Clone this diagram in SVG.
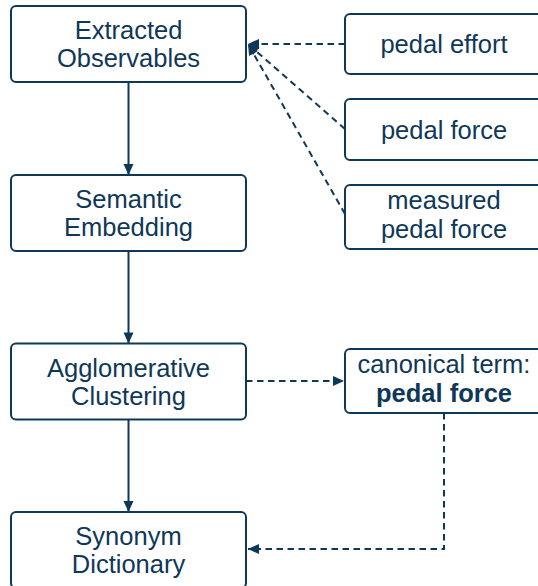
<svg xmlns="http://www.w3.org/2000/svg" width="538" height="586" viewBox="0 0 538 586">
  <defs>
    <marker id="arrow" markerUnits="userSpaceOnUse" markerWidth="12" markerHeight="12" viewBox="-12 -6 12 12" refX="0" refY="0" orient="auto">
      <path d="M0,0 L-11,-5 L-11,5 Z" fill="#0f3858"/>
    </marker>
    <style>
      .box { fill: #ffffff; stroke: #0f3858; stroke-width: 2; }
      .lbl { font-family: "Liberation Sans", Arial, Helvetica, sans-serif; font-size: 25.5px; fill: #0f3858; text-anchor: middle; }
      .bold { font-weight: bold; }
      .edge { fill: none; stroke: #0f3858; stroke-width: 2; marker-end: url(#arrow); }
      .dash { stroke-dasharray: 6.5 4.5; }
    </style>
  </defs>

  <!-- connectors -->
  <g id="connectors">
    <line class="edge" x1="128.5" y1="82" x2="128.5" y2="175"/>
    <line class="edge" x1="128.5" y1="251" x2="128.5" y2="343.5"/>
    <line class="edge" x1="128.5" y1="419.5" x2="128.5" y2="512"/>
    <line class="edge dash" x1="345" y1="44" x2="248" y2="44"/>
    <line class="edge dash" x1="345" y1="129" x2="248" y2="44"/>
    <line class="edge dash" x1="345" y1="214" x2="248" y2="44"/>
    <line class="edge dash" x1="246" y1="381" x2="344" y2="381"/>
    <polyline class="edge dash" points="444,413 444,549 248,549"/>
  </g>

  <!-- pipeline nodes -->
  <g id="extracted-observables">
    <rect class="box" x="11" y="6" width="235" height="76" rx="5"/>
    <text class="lbl" x="128.5" y="39">Extracted</text>
    <text class="lbl" x="128.5" y="67">Observables</text>
  </g>
  <g id="semantic-embedding">
    <rect class="box" x="11" y="175" width="235" height="76" rx="5"/>
    <text class="lbl" x="128.5" y="208">Semantic</text>
    <text class="lbl" x="128.5" y="236">Embedding</text>
  </g>
  <g id="agglomerative-clustering">
    <rect class="box" x="11" y="343.5" width="235" height="76" rx="5"/>
    <text class="lbl" x="128.5" y="376.5">Agglomerative</text>
    <text class="lbl" x="128.5" y="404.5">Clustering</text>
  </g>
  <g id="synonym-dictionary">
    <rect class="box" x="11" y="512" width="235" height="76" rx="5"/>
    <text class="lbl" x="128.5" y="545">Synonym</text>
    <text class="lbl" x="128.5" y="573">Dictionary</text>
  </g>

  <!-- surface forms -->
  <g id="pedal-effort">
    <rect class="box" x="345" y="14" width="198" height="60" rx="5"/>
    <text class="lbl" x="444" y="53">pedal effort</text>
  </g>
  <g id="pedal-force">
    <rect class="box" x="345" y="99" width="198" height="61" rx="5"/>
    <text class="lbl" x="444" y="138.5">pedal force</text>
  </g>
  <g id="measured-pedal-force">
    <rect class="box" x="345" y="185" width="198" height="64" rx="5"/>
    <text class="lbl" x="444" y="208.5">measured</text>
    <text class="lbl" x="444" y="237.5">pedal force</text>
  </g>

  <!-- canonical term -->
  <g id="canonical-term">
    <rect class="box" x="345" y="349" width="198" height="64" rx="5"/>
    <text class="lbl" x="444" y="373">canonical term:</text>
    <text class="lbl bold" x="444" y="402">pedal force</text>
  </g>
</svg>
